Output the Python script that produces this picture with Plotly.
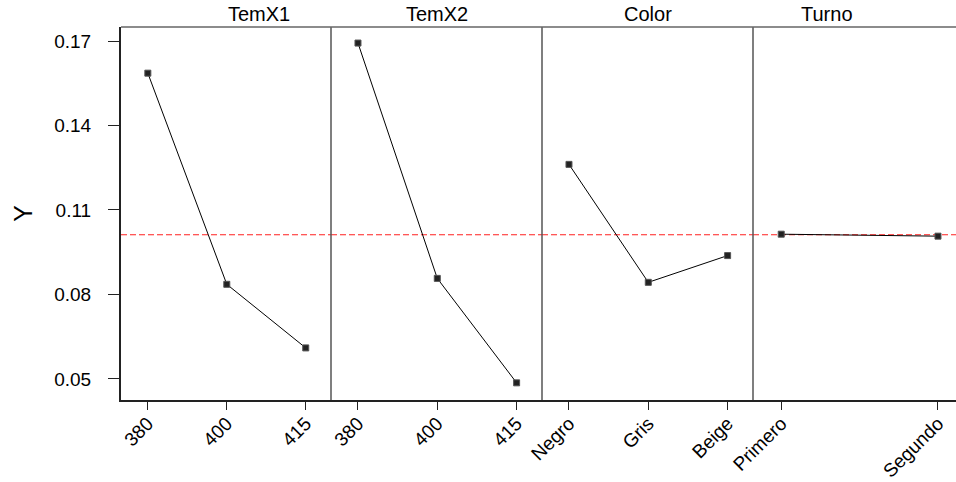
import plotly.graph_objects as go

# ---- data ----
factors = ["TemX1", "TemX2", "Color", "Turno"]
temx1_levels = ["380", "400", "415"]
temx1_means = [0.1586, 0.0836, 0.0610]
temx2_levels = ["380", "400", "415"]
temx2_means = [0.1693, 0.0857, 0.0486]
color_levels = ["Negro", "Gris", "Beige"]
color_means = [0.1262, 0.0843, 0.0938]
turno_levels = ["Primero", "Segundo"]
turno_means = [0.1014, 0.1007]
grand_mean = 0.1012
y_ticks = [0.05, 0.08, 0.11, 0.14, 0.17]

levels = [temx1_levels, temx2_levels, color_levels, turno_levels]
means = [temx1_means, temx2_means, color_means, turno_means]

W, H = 956, 482
ml, mr, mt, mb = 121, 0, 27, 82
pw = W - ml - mr
# panel edges in px (relative to plot area)
edges = [0, 210, 421, 632, pw]
domains = [[edges[i] / pw, edges[i + 1] / pw] for i in range(4)]
xranges = [[-0.34, 2.32], [-0.34, 2.32], [-0.34, 2.32], [-0.18, 1.115]]

font = "Liberation Sans, Arial, sans-serif"
fig = go.Figure()

for i in range(4):
    ax = "x" if i == 0 else f"x{i+1}"
    fig.add_trace(go.Scatter(
        x=levels[i], y=means[i], xaxis=ax, yaxis="y",
        mode="lines+markers",
        line=dict(color="black", width=1),
        marker=dict(symbol="square", size=6, color="#222222",
                    line=dict(color="#555555", width=1)),
        showlegend=False, hoverinfo="x+y",
    ))
    key = "xaxis" if i == 0 else f"xaxis{i+1}"
    fig.layout[key] = dict(
        domain=domains[i], anchor="y", type="category",
        range=xranges[i], showgrid=False, zeroline=False,
        showline=True, linecolor="#222222", linewidth=2,
        ticks="outside", ticklen=8, tickcolor="#222222", tickwidth=1,
        tickangle=-45, ticklabelstandoff=-5,
        tickfont=dict(family=font, size=19, color="black"),
        automargin=False, fixedrange=True,
    )
    # panel title
    fig.add_annotation(
        text=factors[i], xref="paper", yref="paper",
        x=(domains[i][0] + domains[i][1]) / 2, y=1, yanchor="bottom",
        yshift=0, showarrow=False,
        font=dict(family=font, size=20, color="black"),
    )
    # reference line (grand mean)
    fig.add_shape(
        type="line", xref=f"{ax} domain", yref="y",
        x0=0, x1=1, y0=grand_mean, y1=grand_mean,
        line=dict(color="#ff2020", width=1.2, dash="6px,3px"),
        layer="below",
    )

# panel dividers
for i in range(1, 4):
    xp = domains[i][0]
    fig.add_shape(type="line", xref="paper", yref="paper",
                  x0=xp, x1=xp, y0=0, y1=1,
                  line=dict(color="#555555", width=1.5))
# top border
fig.add_shape(type="line", xref="paper", yref="paper",
              x0=0, x1=1, y0=1, y1=1,
              line=dict(color="#666666", width=1.5))

fig.update_layout(
    width=W, height=H,
    margin=dict(l=ml, r=mr, t=mt, b=mb),
    paper_bgcolor="white", plot_bgcolor="white",
    yaxis=dict(
        anchor="x", range=[0.0425, 0.175],
        tickvals=y_ticks, ticktext=[f"{v:.2f}" for v in y_ticks],
        showgrid=False, zeroline=False,
        showline=True, linecolor="#222222", linewidth=2,
        ticks="outside", ticklen=11, tickcolor="#222222", tickwidth=1,
        ticklabelstandoff=13,
        tickfont=dict(family=font, size=19, color="black"),
        title=dict(text="Y", font=dict(family=font, size=25, color="black"),
                   standoff=14),
        automargin=False, fixedrange=True,
    ),
)

fig.write_html("out.html", config={"displayModeBar": False},
               post_script="document.body.style.margin='0';document.body.style.overflow='hidden';")
